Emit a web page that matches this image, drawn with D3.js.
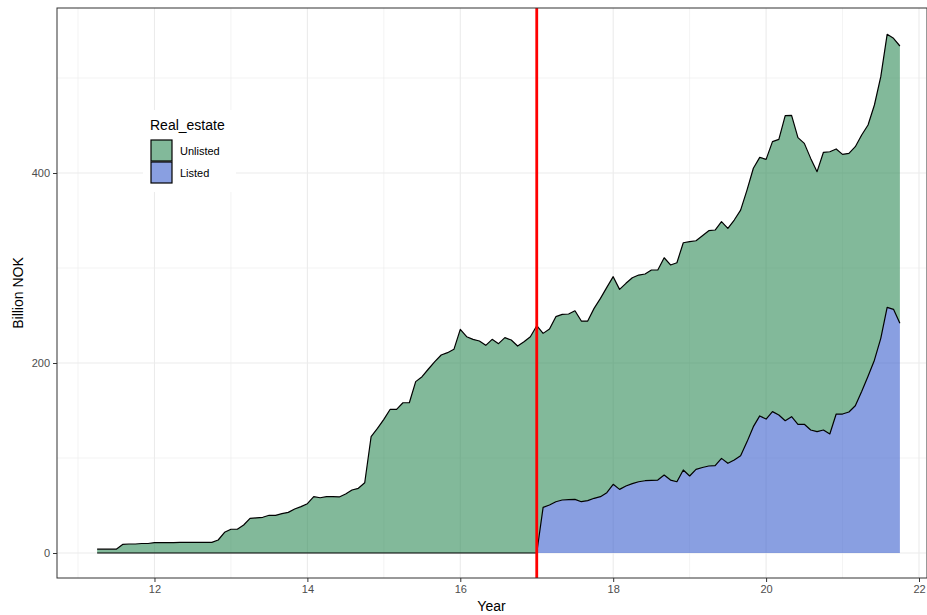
<!DOCTYPE html>
<html>
<head>
<meta charset="utf-8">
<script src="https://cdn.jsdelivr.net/npm/d3@7"></script>
<style>
  body { margin: 0; background: #fff; }
  svg { display: block; font-family: "Liberation Sans", Arial, sans-serif; }
</style>
</head>
<body>
<script>
// monthly observations, x = year (2-digit) + month fraction
var nMonths = 127;
var years = d3.range(nMonths).map(function(i){ return 11.25 + i/12; });

var unlisted = [
  4,4,4,4,
  9,9.5,9.5,10,10,
  11,11,11,11,11.2,11.2,11.2,11.2,11.2,11.2,
  13.7,21.8,25,25,29.5,36.5,
  37,37.6,39.7,39.7,41.4,42.8,46.3,48.8,51.9,
  59.3,58.2,59.3,59.3,59,62.1,66.3,68.1,74,
  122.4,131.2,140.7,151.3,151.2,158.2,158.2,
  180.4,185.6,193.7,201.4,208.4,210.9,214.4,
  235.4,227.7,224.9,223.2,218.6,224.9,220.4,226.7,224.2,217.9,222.4,227.7,
  239.3,
  183.1,185.3,194.8,195.4,195.3,198.5,190.2,189.1,199.9,208.7,
  216.1,218.6,210.5,213.4,216.8,217.6,217.6,221.4,221.1,228.7,
  226.4,230.6,239.2,246.6,240.6,244,247.7,248.1,249.2,247.4,
  252.5,258.5,265,272,272.2,273.4,284.2,290.1,321.1,317.2,
  301.7,295.7,285.9,273.7,292.3,297.1,279,273.3,272.3,272.7,
  270,264.5,268.6,275.4,287.4,285.3,291.9
];

var listed = [
  0,0,0,0,0,0,0,0,0,0,
  0,0,0,0,0,0,0,0,0,0,
  0,0,0,0,0,0,0,0,0,0,
  0,0,0,0,0,0,0,0,0,0,
  0,0,0,0,0,0,0,0,0,0,
  0,0,0,0,0,0,0,0,0,0,
  0,0,0,0,0,0,0,0,0,0,
  48.1,50.5,54,55.8,56.3,56.5,54,55.1,57.6,59.3,
  63.5,72.3,67,70.5,73,75,76.1,76.5,76.8,82.1,
  76.8,75,87.4,81.1,88.1,90,91.6,91.9,99.6,94.4,
  98,102.5,117,133,144.3,141,148.8,145.3,139.3,143.5,
  135.5,135.5,129.5,127.7,129.5,125.3,146.3,146.3,148.4,155,
  170,186,203,226,258.6,256.5,241.8
];

var seriesNames = ["Unlisted", "Listed"];
var seriesColors = {Unlisted: "#2E8B57", Listed: "#3A5FCD"};
var xTicks = [12, 14, 16, 18, 20, 22];
var xMinor = [11, 13, 15, 17, 19, 21];
var yTicks = [0, 200, 400];
var yMinor = [100, 300, 500];
var cutYear = 17;

var W = 927, H = 615;
var pLeft = 57, pRight = 926, pTop = 8, pBottom = 578;

var rows = years.map(function(yr, i){
  return {year: yr, Unlisted: unlisted[i], Listed: listed[i]};
});

var x = d3.scaleLinear()
  .domain([10.725, 22.0915])
  .range([pLeft, pRight]);

var y = d3.scaleLinear()
  .domain([-26.3, 573.7])
  .range([pBottom, pTop]);

var svg = d3.select("body").append("svg")
  .attr("width", W)
  .attr("height", H);

// panel grid
var grid = svg.append("g");
grid.selectAll(".xmin").data(xMinor).enter().append("line")
  .attr("x1", function(d){ return x(d); }).attr("x2", function(d){ return x(d); })
  .attr("y1", pTop).attr("y2", pBottom)
  .attr("stroke", "#ebebeb").attr("stroke-width", 0.6);
grid.selectAll(".ymin").data(yMinor).enter().append("line")
  .attr("y1", function(d){ return y(d); }).attr("y2", function(d){ return y(d); })
  .attr("x1", pLeft).attr("x2", pRight)
  .attr("stroke", "#ebebeb").attr("stroke-width", 0.6);
grid.selectAll(".xmaj").data(xTicks).enter().append("line")
  .attr("x1", function(d){ return x(d); }).attr("x2", function(d){ return x(d); })
  .attr("y1", pTop).attr("y2", pBottom)
  .attr("stroke", "#ebebeb").attr("stroke-width", 1.1);
grid.selectAll(".ymaj").data(yTicks).enter().append("line")
  .attr("y1", function(d){ return y(d); }).attr("y2", function(d){ return y(d); })
  .attr("x1", pLeft).attr("x2", pRight)
  .attr("stroke", "#ebebeb").attr("stroke-width", 1.1);

// stacked areas
var stack = d3.stack().keys(["Listed", "Unlisted"]);
var layers = stack(rows);

var area = d3.area()
  .x(function(d){ return x(d.data.year); })
  .y0(function(d){ return y(d[0]); })
  .y1(function(d){ return y(d[1]); });

var upper = d3.line()
  .x(function(d){ return x(d.data.year); })
  .y(function(d){ return y(d[1]); });

svg.selectAll(".area").data(layers).enter().append("path")
  .attr("d", area)
  .attr("fill", function(d){ return seriesColors[d.key]; })
  .attr("fill-opacity", 0.6);

svg.selectAll(".outline").data(layers).enter().append("path")
  .attr("d", upper)
  .attr("fill", "none")
  .attr("stroke", "#000")
  .attr("stroke-width", 1.2)
  .attr("stroke-linejoin", "round");

// vertical marker
svg.append("line")
  .attr("x1", x(cutYear)).attr("x2", x(cutYear))
  .attr("y1", pTop).attr("y2", pBottom)
  .attr("stroke", "#ff0000")
  .attr("stroke-width", 2.8);

// panel border
svg.append("rect")
  .attr("x", pLeft).attr("y", pTop)
  .attr("width", pRight - pLeft + 1).attr("height", pBottom - pTop)
  .attr("fill", "none")
  .attr("stroke", "#333333")
  .attr("stroke-width", 1);

// axes
var xAxis = svg.append("g")
  .attr("transform", "translate(0," + pBottom + ")")
  .call(d3.axisBottom(x).tickValues(xTicks).tickSize(4).tickPadding(3));
var yAxis = svg.append("g")
  .attr("transform", "translate(" + pLeft + ",0)")
  .call(d3.axisLeft(y).tickValues(yTicks).tickSize(4).tickPadding(3));

[xAxis, yAxis].forEach(function(a){
  a.select(".domain").remove();
  a.selectAll(".tick line").attr("stroke", "#333333");
  a.selectAll(".tick text")
    .attr("fill", "#4d4d4d")
    .style("font-size", "11px")
    .style("font-family", "Liberation Sans, Arial, sans-serif");
});

svg.append("text")
  .attr("x", (pLeft + pRight) / 2)
  .attr("y", 611)
  .attr("text-anchor", "middle")
  .style("font-size", "14px")
  .text("Year");

svg.append("text")
  .attr("transform", "translate(23," + ((pTop + pBottom) / 2) + ") rotate(-90)")
  .attr("text-anchor", "middle")
  .style("font-size", "14px")
  .text("Billion NOK");

// legend
var legend = svg.append("g");
legend.append("rect")
  .attr("x", 143).attr("y", 110)
  .attr("width", 93).attr("height", 82)
  .attr("fill", "#fff");
legend.append("text")
  .attr("x", 150).attr("y", 130)
  .style("font-size", "14px")
  .text("Real_estate");
var items = legend.selectAll(".item").data(seriesNames).enter().append("g")
  .attr("transform", function(d, i){ return "translate(151," + (140 + i * 22) + ")"; });
items.append("rect")
  .attr("width", 21).attr("height", 21)
  .attr("fill", "#fff");
items.append("rect")
  .attr("width", 21).attr("height", 21)
  .attr("fill", function(d){ return seriesColors[d]; })
  .attr("fill-opacity", 0.6)
  .attr("stroke", "#000")
  .attr("stroke-width", 1.2);
items.append("text")
  .attr("x", 29).attr("y", 11)
  .attr("dy", "0.35em")
  .style("font-size", "11px")
  .text(function(d){ return d; });
</script>
</body>
</html>
